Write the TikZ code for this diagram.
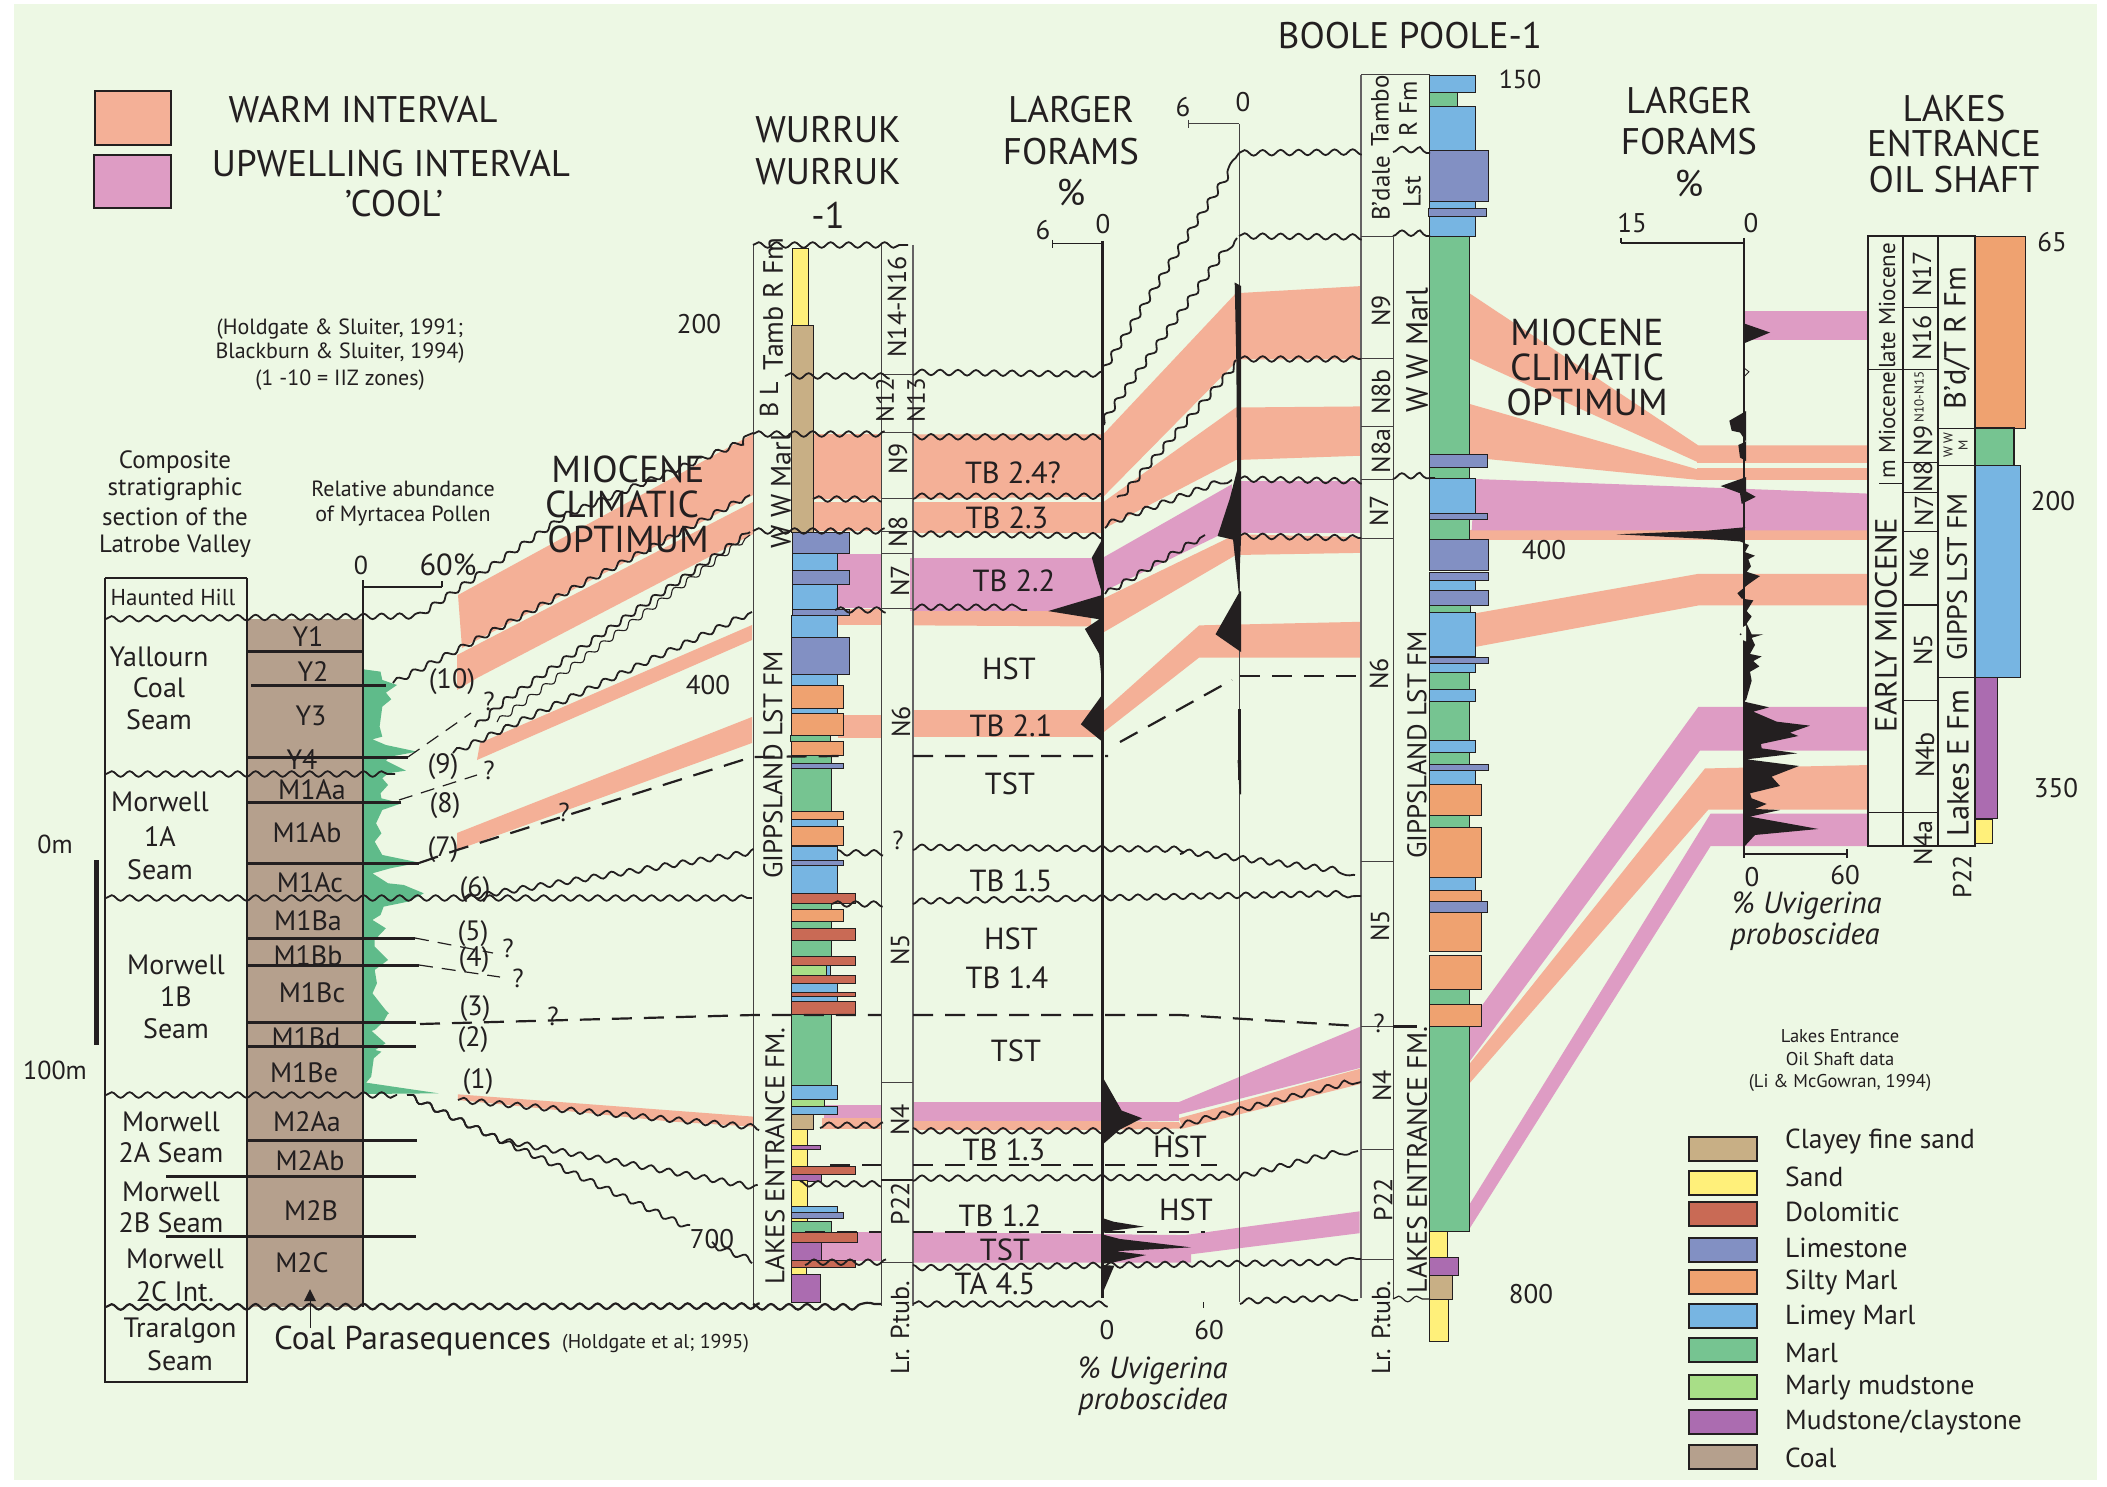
\documentclass[tikz,border=0pt]{standalone}
\usepackage{fontspec}
\setmainfont{PT Sans}
\usetikzlibrary{decorations.pathmorphing}
\definecolor{bgc}{HTML}{EDF8E4}
\definecolor{warm}{HTML}{F4B097}
\definecolor{cool}{HTML}{DE9CC4}
\definecolor{coalc}{HTML}{B5A08D}
\definecolor{ink}{HTML}{231F20}
\definecolor{pol}{HTML}{5FBB8A}
\definecolor{lsa}{HTML}{FFF07A}
\definecolor{lcl}{HTML}{C8AF85}
\definecolor{ldo}{HTML}{C96A55}
\definecolor{lls}{HTML}{8290C3}
\definecolor{lsi}{HTML}{EFA270}
\definecolor{llm}{HTML}{77B5E2}
\definecolor{lma}{HTML}{76C491}
\definecolor{lmm}{HTML}{A8DE87}
\definecolor{lmu}{HTML}{AB6CB0}
\tikzset{
 z1/.style={shift={(60,540)},x=.4464pt,y=-.3333pt},
 z2/.style={shift={(60,1000)},x=.5102pt,y=-.3333pt},
 z3/.style={shift={(740,220)},x=.40816pt,y=-.35714pt},
 z4/.style={shift={(740,760)},x=.40816pt,y=-.38314pt},
 z5/.style={shift={(1340,60)},x=.3333pt,y=-.39526pt},
 z6/.style={shift={(1340,640)},x=.3333pt,y=-.48473pt},
 z7/.style={shift={(1600,220)},x=.3333pt,y=-.35714pt},
 z8/.style={shift={(1600,660)},x=.3333pt,y=-.3333pt},
 wv/.style={draw=ink,line width=1.8pt,decorate,decoration={snake,segment length=18pt,amplitude=2.8pt}},
 dsh/.style={draw=ink,line width=2.2pt,dash pattern=on 20pt off 12pt},
 dsht/.style={draw=ink,line width=1.2pt,dash pattern=on 14pt off 9pt},
 lith/.style={draw=ink,line width=.7pt},
 hl/.style={draw=ink,line width=3pt},
 tl/.style={draw=ink!85,line width=1pt},
 blk/.style={fill=ink,draw=none},
 tx/.style={text=ink,inner sep=0pt,align=center},
 f18/.style={tx,font=\fontsize{18.5}{22}\selectfont},
 f20/.style={tx,font=\fontsize{22}{26}\selectfont},
 f23/.style={tx,font=\fontsize{25}{30}\selectfont},
 f26/.style={tx,font=\fontsize{26}{31}\selectfont},
 f27/.style={tx,font=\fontsize{27}{32}\selectfont},
 f28/.style={tx,font=\fontsize{28}{33}\selectfont},
 f30/.style={tx,font=\fontsize{30.5}{36}\selectfont},
 f32/.style={tx,font=\fontsize{37}{44}\selectfont},
 f36/.style={tx,font=\fontsize{37.5}{44}\selectfont},
 r/.style={rotate=90},
}
\newcommand{\lab}[4]{\node[#1] at (#2,#3) {#4};}
\begin{document}
\begin{tikzpicture}[x=1pt,y=-1pt]
\useasboundingbox (0,0) rectangle (2107,1487);
\fill[white] (0,0) rectangle (2107,1487);
\fill[bgc] (14,4) rectangle (2097,1480);
% --- bands: warm
\fill[warm] (458,595) -- (753,434) -- (753,495) -- (462,648) -- cycle;
\fill[warm] (457,655) -- (753,502) -- (753,534) -- (477,678) -- (457,690) -- cycle;
\fill[warm] (480,743) -- (752,625) -- (752,640) -- (477,760) -- cycle;
\fill[warm] (457,833) -- (752,717) -- (752,743) -- (457,850) -- cycle;
\begin{scope}[z3]
\fill[warm] (180,600) rectangle (345,780);
\fill[warm] (423,600) -- (887,600) -- (887,775) -- (423,780) -- cycle;
\fill[warm] (180,790) rectangle (345,872);
\fill[warm] (423,790) rectangle (887,875);
\fill[warm] (890,600) -- (1215,205) -- (1522,185) -- (1522,390) -- (1222,390) -- (890,775) -- cycle;
\fill[warm] (890,790) -- (1215,525) -- (1522,522) -- (1522,660) -- (1215,672) -- (890,865) -- cycle;
\fill[warm] (240,1090) rectangle (345,1135);
\fill[warm] (423,1095) -- (860,1095) -- (860,1138) -- (423,1135) -- cycle;
\fill[warm] (890,1060) -- (1215,880) -- (1522,888) -- (1522,932) -- (1215,938) -- (890,1155) -- cycle;
\fill[warm] (240,1385) rectangle (345,1450);
\fill[warm] (423,1372) rectangle (885,1448);
\fill[warm] (890,1375) -- (1125,1135) -- (1522,1125) -- (1522,1225) -- (1125,1225) -- (890,1435) -- cycle;
\end{scope}
\begin{scope}[z2]
\fill[warm] (780,283) -- (1360,350) -- (1360,380) -- (1200,365) -- (780,300) -- cycle;
\end{scope}
\begin{scope}[z4]
\fill[warm] (200,935) rectangle (345,962);
\fill[warm] (423,940) rectangle (890,965);
\fill[warm] (890,942) -- (1075,945) -- (1085,962) -- (890,965) -- cycle;
\fill[warm] (1075,935) -- (1522,805) -- (1522,845) -- (1085,962) -- cycle;
\end{scope}
% --- bands: cool
\begin{scope}[z3]
\fill[cool] (240,935) rectangle (345,1085);
\fill[cool] (417,945) -- (885,945) -- (885,1095) -- (417,1095) -- cycle;
\fill[cool] (890,945) -- (1205,740) -- (1205,860) -- (1170,885) -- (890,1040) -- cycle;
\fill[cool] (1228,730) rectangle (1522,875);
\end{scope}
\begin{scope}[z4]
\fill[cool] (205,900) rectangle (345,935);
\fill[cool] (423,893) rectangle (1075,943);
\fill[cool] (1075,893) -- (1522,695) -- (1522,803) -- (1075,925) -- cycle;
\fill[cool] (200,1232) rectangle (345,1308);
\fill[cool] (423,1232) -- (1090,1240) -- (1518,1178) -- (1518,1235) -- (1105,1290) -- (1105,1312) -- (423,1312) -- cycle;
\end{scope}
\begin{scope}[z5]
\fill[warm] (388,590) -- (1075,975) -- (1585,975) -- (1585,1018) -- (1075,1018) -- (388,755) -- cycle;
\fill[warm] (388,870) -- (1070,1035) -- (1585,1035) -- (1585,1062) -- (1070,1062) -- (388,1005) -- cycle;
\fill[warm] (390,1190) rectangle (1585,1215);
\fill[cool] (405,1060) -- (1214,1085) -- (1585,1097) -- (1585,1190) -- (395,1190) -- cycle;
\fill[warm] (405,1400) -- (1075,1300) -- (1585,1300) -- (1585,1380) -- (1075,1380) -- (405,1485) -- cycle;
\end{scope}
\fill[cool] (1744,311) rectangle (1868,340);
\begin{scope}[z6]
\fill[cool] (388,790) -- (1075,138) -- (1585,138) -- (1585,228) -- (1080,228) -- (388,870) -- cycle;
\fill[warm] (388,875) -- (1095,265) -- (1585,258) -- (1585,350) -- (1105,350) -- (388,915) -- cycle;
\fill[cool] (388,1165) -- (1112,358) -- (1585,358) -- (1585,425) -- (1112,425) -- (388,1215) -- cycle;
\end{scope}
% --- left composite column
\fill[coalc] (247,619) rectangle (363,1307);
\begin{scope}[z1]
\fill[pol] (680,388) -- (718,395) -- (722,420) -- (755,435) -- (730,458) -- (742,478) -- (722,500) -- (716,560) -- (722,590) -- (700,598) -- (730,615) -- (800,635) -- (740,650) -- (730,662) -- (775,692) -- (735,700) -- (722,715) -- (735,735) -- (718,760) -- (720,775) -- (765,790) -- (722,810) -- (708,850) -- (720,880) -- (705,905) -- (722,945) -- (805,968) -- (740,985) -- (700,1000) -- (735,1030) -- (770,1035) -- (815,1060) -- (780,1085) -- (725,1100) -- (718,1125) -- (700,1140) -- (730,1165) -- (705,1200) -- (705,1220) -- (735,1260) -- (705,1290) -- (710,1330) -- (700,1360) -- (735,1420) -- (725,1445) -- (705,1470) -- (680,1480) -- cycle;
\end{scope}
\begin{scope}[z2]
\fill[pol] (596,60) -- (605,85) -- (638,130) -- (618,150) -- (630,155) -- (615,175) -- (610,230) -- (600,248) -- (742,280) -- (596,282) -- cycle;
\fill[pol] (596,0) -- (620,5) -- (645,40) -- (610,70) -- (596,75) -- cycle;
\end{scope}
\draw[line width=2.4pt,ink] (105,578) -- (247,578);
\draw[line width=1.8pt,ink] (105,578) -- (105,1382) -- (247,1382) -- (247,578);
\draw[line width=2.4pt,ink] (363,580) -- (363,1307);
\draw[line width=1.5pt,ink] (363,587) -- (442,587) (442,581) -- (442,587);
\draw[hl] (247,651) -- (363,651) (251,685) -- (386,685) (247,757) -- (408,757) (247,802) -- (401,802) (247,863) -- (419,863) (247,938) -- (415,938) (247,965) -- (419,965) (247,1022) -- (416,1022) (247,1046) -- (416,1046) (247,1140) -- (417,1140) (166,1176) -- (416,1176) (166,1236) -- (416,1236);
\draw[line width=5pt,ink] (96,860) -- (96,1045);
\draw[ink,line width=1pt] (310,1298) -- (310,1328);
\fill[ink] (310,1289) -- (316,1301) -- (304,1301) -- cycle;
% --- Wurruk frame
\draw[tl] (753.5,245) -- (753.5,1306) (881,245) -- (881,1306);
\draw[line width=1.4pt,ink!70] (913,245) -- (913,1306);
\draw[tl] (881,375) -- (913,375) (881,432.5) -- (913,432.5) (881,498.6) -- (913,498.6) (881,531) -- (913,531) (881,553) -- (913,553) (881,608) -- (913,608) (881,1082) -- (913,1082) (881,1262) -- (913,1262);
\draw[line width=1.8pt,ink] (881,1180) -- (913,1180);
% --- Wurruk lithology
\begin{scope}[z3]
\foreach \c/\a/\b/\p/\q in {lsa/128/168/78/295,lcl/126/180/295/875,lls/128/268/875/933,llm/128/238/933/985,lls/128/268/982/1020,llm/128/238/1020/1090,lls/128/268/1090/1107,llm/126/238/1107/1168,lls/126/268/1168/1272,llm/126/238/1272/1303,lsi/126/254/1303/1367,llm/126/238/1367/1382,lsi/126/254/1382/1443,lma/123/222/1443/1460,lsi/126/254/1460/1498,lma/126/224/1498/1520,lls/126/254/1520/1535,lma/126/224/1535/1568}
 \draw[lith,fill=\c] (\a,\p) rectangle (\b,\q);
\end{scope}
\begin{scope}[z4]
\foreach \c/\a/\b/\p/\q in {lls/126/254/8/22,lma/126/224/22/133,lsi/126/254/133/155,llm/126/238/155/172,lsi/126/254/172/224,llm/126/238/226/262,lls/126/254/262/274,llm/126/238/274/348,ldo/126/283/348/373,lma/126/224/373/390,lsi/126/254/390/420,lma/126/224/420/440,ldo/126/283/440/471,lma/126/224/471/512,ldo/126/283/512/537,lmm/126/212/537/563,llm/212/222/537/563,ldo/126/283/563/582,llm/126/238/582/606,ldo/126/283/606/618,llm/126/238/618/630,ldo/126/283/630/665,lma/126/224/665/850,llm/126/238/850/887,lmm/126/207/887/910,llm/126/238/905/925,lcl/126/180/925/965,lsa/126/165/965/1005,lmu/126/197/1005/1016,lsa/126/165/1016/1060,ldo/126/283/1060/1082,lmu/126/200/1082/1100,lsa/126/165/1098/1165,llm/126/238/1165/1180,lls/126/254/1180/1195,lsa/126/165/1195/1203,lma/126/224/1203/1233,ldo/126/288/1233/1260,lmu/126/200/1260/1305,ldo/126/283/1305/1323,lsa/126/163/1323/1342,lmu/126/197/1342/1415}
 \draw[lith,fill=\c] (\a,\p) rectangle (\b,\q);
\end{scope}
% --- Boole Poole frame and lithology
\draw[line width=1.5pt,ink!70] (1361,75) -- (1361,1298);
\draw[tl] (1361,75) -- (1430,75) (1393,237) -- (1393,1299);
\draw[tl] (1361,237) -- (1393,237) (1361,359) -- (1393,359) (1361,426) -- (1393,426) (1361,479) -- (1393,479) (1361,538) -- (1393,538) (1361,861) -- (1393,861) (1361,1026) -- (1393,1026) (1361,1149) -- (1393,1149) (1361,1259) -- (1393,1259);
\begin{scope}[z5]
\foreach \c/\a/\b/\p/\q in {llm/268/407/40/82,lma/268/352/82/117,llm/268/407/117/229,lls/268/445/229/357,llm/268/407/357/375,lls/265/440/375/395,llm/268/407/395/447,lma/268/388/447/997,lls/268/443/997/1032,lma/268/388/1032/1060,llm/268/407/1060/1147,lls/268/443/1147/1163,lma/268/388/1163/1212,lls/268/445/1212/1292,lls/268/445/1296/1317,llm/268/407/1317/1342,lls/268/445/1342/1380,lma/268/390/1380/1398,llm/268/407/1398/1510}
 \draw[lith,line width=1pt,fill=\c] (\a,\p) rectangle (\b,\q);
\end{scope}
\begin{scope}[z6]
\foreach \c/\a/\b/\p/\q in {lls/268/445/36/48,llm/268/407/48/68,lma/268/388/68/102,llm/268/407/102/127,lma/268/388/127/207,llm/268/407/207/232,lma/268/388/232/257,lls/268/445/257/270,llm/268/407/270/298,lsi/268/424/298/363,lma/268/388/363/387,lsi/268/424/387/490,llm/268/407/490/517,lsi/268/424/517/540,lls/268/443/540/563,lsi/268/424/563/642,lsi/268/424/651/720,lma/268/388/720/752,lsi/268/424/752/797,lma/268/388/797/1221,lsa/268/322/1221/1274,lmu/268/356/1274/1310,lcl/268/338/1310/1361,lsa/268/325/1361/1447}
 \draw[lith,line width=1pt,fill=\c] (\a,\p) rectangle (\b,\q);
\end{scope}
% --- Oil shaft
\begin{scope}[z7]
\fill[warm] (290,633) rectangle (805,680);
\fill[warm] (290,695) rectangle (805,728);
\draw[lith,fill=lsi] (1127,45) rectangle (1277,583);
\draw[lith,line width=1.5pt,fill=lma] (1127,583) rectangle (1242,688);
\draw[lith,fill=llm] (1127,688) rectangle (1262,1280);
\draw[ink,line width=1.5pt] (805,418) -- (908,418) (838,738) -- (908,738);
\draw[ink,line width=1.2pt] (908,245) -- (1015,245) (908,418) -- (1015,418) (908,680) -- (1015,680) (908,762) -- (1015,762) (908,873) -- (1015,873) (908,1078) -- (1015,1078) (908,1345) -- (1015,1345) (1015,583) -- (1125,583) (1015,688) -- (1125,688) (1015,1280) -- (1125,1280);
\end{scope}
\begin{scope}[z8]
\draw[lith,line width=1.5pt,fill=lmu] (1127,52) rectangle (1192,475);
\draw[lith,line width=1.5pt,fill=lsa] (1127,477) rectangle (1178,550);
\draw[ink,line width=1.2pt] (805,457) -- (1015,457);
\end{scope}
\draw[line width=2pt,ink] (1868,236) rectangle (1975,846);
\draw[line width=2pt,ink] (1903,236) -- (1903,846) (1938,236) -- (1938,846) (1975,236) -- (1975,846);
% --- axes
\draw[line width=3pt,ink] (1102,241) -- (1102,1298);
\draw[ink,line width=1pt] (1052,244) -- (1102,244) (1052,240) -- (1052,248);
\draw[tl] (1239,124) -- (1239,1302) (1188,124) -- (1239,124) (1188,120) -- (1188,128);
\draw[ink,line width=1pt] (1203,1302) -- (1203,1308);
\draw[ink,line width=1.2pt] (1744,238) -- (1744,858) (1621,243) -- (1744,243) (1621,238) -- (1621,243) (1744,854) -- (1847,854) (1847,849) -- (1847,858);
% --- foram curves
\begin{scope}[z3]
\fill[blk] (887,895) -- (862,945) -- (875,1000) -- (887,1045) -- cycle;
\fill[blk] (887,1050) -- (755,1095) -- (880,1118) -- (845,1145) -- (880,1215) -- (887,1300) -- cycle;
\fill[blk] (887,1330) -- (835,1412) -- (887,1460) -- cycle;
\fill[blk] (1212,175) -- (1228,185) -- (1228,700) -- (1228,880) -- (1222,1040) -- (1228,1040) -- (1228,1210) -- (1165,1160) -- (1222,1045) -- (1208,895) -- (1170,885) -- (1200,780) -- (1218,700) -- (1216,400) -- cycle;
\fill[blk] (1219,1370) -- (1228,1370) -- (1228,1568) -- (1219,1568) -- cycle;
\end{scope}
\begin{scope}[z4]
\fill[blk] (887,825) -- (935,915) -- (985,935) -- (930,965) -- (887,1005) -- cycle;
\fill[blk] (887,1195) -- (915,1205) -- (990,1218) -- (915,1228) -- (887,1235) -- cycle;
\fill[blk] (887,1238) -- (930,1250) -- (1105,1272) -- (920,1282) -- (995,1292) -- (920,1310) -- (887,1315) -- cycle;
\fill[blk] (887,1318) -- (917,1320) -- (887,1395) -- cycle;
\fill[blk] (1219,0) -- (1228,0) -- (1228,90) -- (1224,90) -- cycle;
\end{scope}
\begin{scope}[z7]
\fill[blk] (433,290) -- (510,315) -- (433,345) -- cycle;
\draw[ink,line width=.8pt] (433,415) -- (447,425) -- (433,438);
\fill[blk] (438,535) -- (388,562) -- (395,590) -- (420,595) -- (438,620) -- (415,630) -- (420,665) -- (438,675) -- cycle;
\fill[blk] (438,720) -- (362,745) -- (420,765) -- (425,795) -- (467,775) -- (438,760) -- cycle;
\fill[blk] (438,860) -- (320,870) -- (50,880) -- (320,893) -- (420,900) -- (447,910) -- (435,930) -- (465,940) -- (445,950) -- (453,970) -- (440,985) -- (480,997) -- (445,1020) -- (412,1045) -- (425,1060) -- (460,1065) -- (440,1095) -- (455,1110) -- (440,1130) -- (455,1160) -- (490,1160) -- (455,1170) -- (465,1190) -- (450,1215) -- (485,1222) -- (460,1235) -- (478,1250) -- (450,1265) -- (455,1290) -- (438,1345) -- (433,1345) -- (433,860) -- cycle;
\fill[bgc] (438,1135) -- (392,1160) -- (438,1180) -- cycle;
\fill[ink] (422,1160) circle (1pt);
\end{scope}
\begin{scope}[z8]
\fill[blk] (433,125) -- (507,142) -- (460,155) -- (530,185) -- (630,197) -- (570,218) -- (595,228) -- (483,252) -- (485,265) -- (592,280) -- (440,298) -- (597,318) -- (515,350) -- (540,378) -- (450,400) -- (455,415) -- (500,432) -- (465,447) -- (540,450) -- (450,470) -- (655,507) -- (465,525) -- (433,560) -- cycle;
\end{scope}
% --- unconformities (wavy)
\draw[wv] (106,619) -- (410,616) -- (564,511) -- (753,433);
\draw[wv] (106,774) -- (395,774);
\draw[wv] (106,898) -- (752,898);
\draw[wv] (106,1095) -- (397,1095);
\draw[wv,line width=2.2pt] (106,1307) -- (752,1306) (753,1304) -- (881,1304);
\draw[wv] (753,245) -- (908,245);
\draw[wv] (785,376) -- (881,376) (913,375) -- (1102,377) (1102,367) -- (1194,220) -- (1239,153);
\draw[wv] (753,434) -- (881,434) (913,434) -- (1102,434) (1104,425) -- (1237,238);
\draw[wv] (393,683) -- (457,650) -- (750,495);
\draw[wv] (813,499) -- (881,499) (913,499) -- (1100,499) (1117,497) -- (1236,360);
\draw[wv] (475,727) -- (506,700) -- (750,532);
\draw[wv,line width=1.1pt] (497,722) -- (750,535);
\draw[wv] (753,531) -- (881,531) (913,531) -- (1102,533) (1105,528) -- (1232,480);
\draw[wv] (453,753) -- (752,612);
\draw[wv] (835,610) -- (881,610) (913,610) -- (1027,610);
\draw[wv] (1105,594) -- (1205,535);
\draw[wv] (1239,236) -- (1361,237) (1393,236) -- (1430,236);
\draw[wv] (1239,153) -- (1361,152) (1393,152) -- (1430,153);
\draw[wv] (1239,359) -- (1361,359);
\draw[wv] (1239,479) -- (1361,481) (1393,479) -- (1435,478);
\draw[wv] (1239,536) -- (1361,538);
\draw[wv] (464,898) -- (752,852) (838,850) -- (881,850) (913,850) -- (1180,852) (1180,854) -- (1355,875);
\draw[wv] (832,904) -- (881,904) (913,904) -- (1361,896);
\draw[wv] (458,1100) -- (754,1127) (820,1128) -- (881,1128) (913,1128) -- (1180,1128) (1180,1128) -- (1361,1082);
\draw[wv] (407,1095) -- (494,1137) -- (754,1185) (800,1181) -- (881,1181) (913,1181) -- (1240,1180) -- (1358,1151);
\draw[wv] (407,1095) -- (494,1137) -- (545,1160) -- (688,1227) (712,1242) -- (754,1258) (805,1265) -- (881,1265) (913,1265) -- (1361,1259);
\draw[wv] (913,1304) -- (1100,1304) (1240,1304) -- (1358,1300);
\draw[wv,line width=1.2pt] (1393,1299) -- (1430,1299);
% --- dashed
\draw[dsh] (419,863) -- (457,850) -- (752,757) -- (840,756) (913,756) -- (1108,756);
\draw[dsh] (1120,742) -- (1232,680);
\draw[dsh] (1240,676) -- (1361,676);
\draw[dsh] (420,1024) -- (754,1015) -- (881,1015) (913,1015) -- (1180,1015) -- (1358,1026);
\draw[dsh] (830,1165) -- (881,1165) (913,1165) -- (1217,1165);
\draw[dsh] (805,1232) -- (881,1232) (913,1232) -- (1205,1232);
\draw[dsht] (408,757) -- (471,713) (399,800) -- (477,775) (415,938) -- (493,953) (419,965) -- (500,977);
\draw[hl] (1393,1026) -- (1417,1026);
% --- legend
\draw[line width=2.2pt,ink,fill=warm] (95,91) rectangle (171,145);
\draw[line width=2.2pt,ink,fill=cool] (94,155) rectangle (171,208);
\foreach \c/\p/\t/\n in {lcl/1137/1142/Clayey fine sand,lsa/1171/1177/Sand,ldo/1202/1212/Dolomitic,lls/1238/1248/Limestone,lsi/1270/1283/Silty Marl,llm/1304/1318/Limey Marl,lma/1338/1353/Marl,lmm/1375/1388/Marly mudstone,lmu/1410/1423/Mudstone\slash claystone,coalc/1445/1458/Coal}{
 \draw[line width=1.6pt,ink,fill=\c] (1689,\p) rectangle (1757,\p+24);
 \node[tx,font=\fontsize{27.5}{32}\selectfont,anchor=west] at (1785,\t) {\n};
}
% --- text
\lab{f32}{1410}{36}{BOOLE POOLE-1}
\lab{f32}{363}{110}{WARM INTERVAL}
\lab{f32}{391}{164}{UPWELLING INTERVAL}
\lab{f32}{394}{204}{'COOL'}
\lab{f32}{828}{130}{WURRUK}
\lab{f32}{828}{172}{WURRUK}
\lab{f32}{828}{215}{-1}
\lab{f32}{1071}{110}{LARGER}
\lab{f32}{1071}{152}{FORAMS}
\lab{f32}{1071}{193}{\%}
\lab{f27}{1043}{230}{6}
\lab{f27}{1103}{224}{0}
\lab{f27}{1183}{107}{6}
\lab{f27}{1243}{102}{0}
\lab{f26}{1520}{79}{150}
\lab{f32}{1689}{101}{LARGER}
\lab{f32}{1689}{142}{FORAMS}
\lab{f32}{1689}{184}{\%}
\lab{f27}{1632}{223}{15}
\lab{f27}{1751}{223}{0}
\lab{f32}{1954}{109}{LAKES}
\lab{f32}{1954}{144}{ENTRANCE}
\lab{f32}{1954}{180}{OIL SHAFT}
\lab{f27}{2052}{242}{65}
\lab{f27}{2053}{501}{200}
\lab{f27}{2056}{788}{350}
\lab{f20}{340}{329}{(Holdgate \& Sluiter, 1991;}
\lab{f20}{340}{353}{Blackburn \& Sluiter, 1994)}
\lab{f20}{340}{380}{(1 -10 = IIZ zones)}
\lab{f23}{175}{462}{Composite}
\lab{f23}{175}{489}{stratigraphic}
\lab{f23}{175}{517}{section of the}
\lab{f23}{175}{546}{Latrobe Valley}
\lab{f20}{403}{489}{Relative abundance}
\lab{f20}{403}{516}{of Myrtacea Pollen}
\lab{f36}{628}{469}{MIOCENE}
\lab{f36}{622}{504}{CLIMATIC}
\lab{f36}{628}{539}{OPTIMUM}
\lab{f36}{1587}{332}{MIOCENE}
\lab{f36}{1587}{367}{CLIMATIC}
\lab{f36}{1587}{402}{OPTIMUM}
\lab{f27}{699}{324}{200}
\lab{f27}{708}{685}{400}
\lab{f27}{712}{1239}{700}
\lab{f27}{1544}{550}{400}
\lab{f27}{1531}{1294}{800}
\lab{f26}{55}{844}{0m}
\lab{f26}{55}{1070}{100m}
\lab{f26}{361}{565}{0}
\lab{f30}{448}{565}{60\%}
\node[tx,font=\fontsize{23}{28}\selectfont] at (173,597) {Haunted Hill};
\lab{f28}{159}{657}{Yallourn}
\lab{f28}{159}{688}{Coal}
\lab{f28}{159}{720}{Seam}
\lab{f28}{160}{802}{Morwell}
\lab{f28}{160}{837}{1A}
\lab{f28}{160}{870}{Seam}
\lab{f28}{176}{965}{Morwell}
\lab{f28}{176}{997}{1B}
\lab{f28}{176}{1029}{Seam}
\lab{f28}{171}{1122}{Morwell}
\lab{f28}{171}{1153}{2A Seam}
\lab{f28}{171}{1192}{Morwell}
\lab{f28}{171}{1223}{2B Seam}
\lab{f28}{175}{1259}{Morwell}
\lab{f28}{175}{1292}{2C Int.}
\lab{f28}{180}{1331}{Traralgon}
\lab{f28}{180}{1361}{Seam}
\foreach \s/\a/\p in {Y1/308/637,Y2/313/672,Y3/311/716,Y4/302/760,M1Aa/312/790,M1Ab/307/833,M1Ac/310/883,M1Ba/308/921,M1Bb/308/956,M1Bc/312/993,M1Bd/306/1038,M1Be/304/1073,M2Aa/307/1122,M2Ab/310/1161,M2B/311/1211,M2C/302/1263}
 \node[f28] at (\a,\p) {\s};
\lab{f28}{452}{682}{(10)}
\lab{f28}{443}{767}{(9)}
\lab{f28}{445}{806}{(8)}
\lab{f28}{443}{850}{(7)}
\lab{f28}{475}{890}{(6)}
\lab{f28}{473}{934}{(5)}
\lab{f28}{474}{960}{(4)}
\lab{f28}{475}{1009}{(3)}
\lab{f28}{473}{1040}{(2)}
\lab{f28}{478}{1082}{(1)}
\lab{f26}{489}{701}{?}
\lab{f26}{489}{770}{?}
\lab{f26}{564}{812}{?}
\lab{f26}{508}{948}{?}
\lab{f26}{518}{978}{?}
\lab{f26}{553}{1016}{?}
\node[tx,font=\fontsize{33}{38}\selectfont,anchor=west] at (274,1341) {Coal Parasequences};
\node[tx,font=\fontsize{20}{25}\selectfont,anchor=west] at (562,1344) {(Holdgate et al; 1995)};
\lab{f28,r}{773}{304}{Tamb R Fm}
\lab{f26,r}{769}{400}{B L}
\lab{f28,r}{781}{491}{W W Marl}
\lab{f27,r}{773}{765}{GIPPSLAND LST FM}
\lab{f27,r}{775}{1156}{LAKES ENTRANCE FM.}
\lab{f26,r}{897}{307}{N14-N16}
\lab{f23,r}{885}{400}{N12}
\lab{f23,r}{916}{400}{N13}
\lab{f26,r}{898}{459}{N9}
\lab{f26,r}{898}{532}{N8}
\lab{f26,r}{900}{581}{N7}
\lab{f26,r}{901}{722}{N6}
\lab{f26}{898}{840}{?}
\lab{f26,r}{900}{950}{N5}
\lab{f26,r}{900}{1120}{N4}
\lab{f26,r}{900}{1204}{P22}
\lab{f26,r}{900}{1328}{Lr. P.tub.}
\lab{f30}{1013}{473}{TB 2.4?}
\lab{f30}{1007}{518}{TB 2.3}
\lab{f30}{1014}{581}{TB 2.2}
\lab{f30}{1009}{669}{HST}
\lab{f30}{1011}{726}{TB 2.1}
\lab{f30}{1010}{784}{TST}
\lab{f30}{1011}{881}{TB 1.5}
\lab{f30}{1011}{939}{HST}
\lab{f30}{1007}{978}{TB 1.4}
\lab{f30}{1016}{1051}{TST}
\lab{f30}{1004}{1150}{TB 1.3}
\lab{f30}{1180}{1147}{HST}
\lab{f30}{1000}{1216}{TB 1.2}
\lab{f30}{1186}{1210}{HST}
\lab{f30}{1005}{1250}{TST}
\lab{f30}{995}{1284}{TA 4.5}
\lab{f27}{1107}{1330}{0}
\lab{f27}{1209}{1330}{60}
\lab{f30}{1153}{1371}{\itshape\% Uvigerina}
\lab{f30}{1153}{1402}{\itshape proboscidea}
\lab{f23,r}{1380}{111}{Tambo}
\lab{f23,r}{1408}{109}{R Fm}
\lab{f23,r}{1381}{188}{B'dale}
\lab{f23,r}{1412}{192}{Lst}
\lab{f26,r}{1381}{311}{N9}
\lab{f26,r}{1381}{392}{N8b}
\lab{f26,r}{1381}{451}{N8a}
\lab{f26,r}{1379}{511}{N7}
\lab{f30,r}{1417}{350}{W W Marl}
\lab{f26,r}{1379}{674}{N6}
\lab{f27,r}{1417}{745}{GIPPSLAND LST FM}
\lab{f26,r}{1380}{926}{N5}
\lab{f26}{1379}{1023}{?}
\lab{f26,r}{1382}{1086}{N4}
\lab{f26,r}{1383}{1200}{P22}
\lab{f28,r}{1417}{1160}{LAKES ENTRANCE FM.}
\lab{f26,r}{1381}{1328}{Lr. P.tub.}
\node[tx,font=\fontsize{23}{28}\selectfont,rotate=90] at (1887,306) {late Miocene};
\node[tx,font=\fontsize{23}{28}\selectfont,rotate=90] at (1887,425) {m Miocene};
\lab{f30,r}{1886}{625}{EARLY MIOCENE}
\lab{f26,r}{1922}{274}{N17}
\lab{f26,r}{1922}{338}{N16}
\node[tx,font=\fontsize{13}{15}\selectfont,rotate=90] at (1919,397) {N10-N15};
\lab{f26,r}{1923}{441}{N9}
\lab{f26,r}{1923}{477}{N8}
\lab{f26,r}{1924}{511}{N7}
\lab{f26,r}{1919}{563}{N6}
\lab{f26,r}{1923}{650}{N5}
\lab{f26,r}{1925}{755}{N4b}
\lab{f26,r}{1923}{843}{N4a}
\lab{f26,r}{1962}{877}{P22}
\lab{f30,r}{1957}{338}{B'd/T R Fm}
\node[tx,font=\fontsize{13}{15}\selectfont,rotate=90] at (1948,445) {W W};
\node[tx,font=\fontsize{13}{15}\selectfont,rotate=90] at (1963,445) {M};
\lab{f28,r}{1957}{577}{GIPPS LST FM}
\lab{f30,r}{1958}{763}{Lakes E Fm}
\lab{f27}{1752}{877}{0}
\lab{f27}{1845}{875}{60}
\lab{f30}{1807}{906}{\itshape\% Uvigerina}
\lab{f30}{1805}{937}{\itshape proboscidea}
\lab{f18}{1840}{1036}{Lakes Entrance}
\lab{f18}{1840}{1059}{Oil Shaft data}
\lab{f18}{1840}{1083}{(Li \& McGowran, 1994)}
\end{tikzpicture}
\end{document}
